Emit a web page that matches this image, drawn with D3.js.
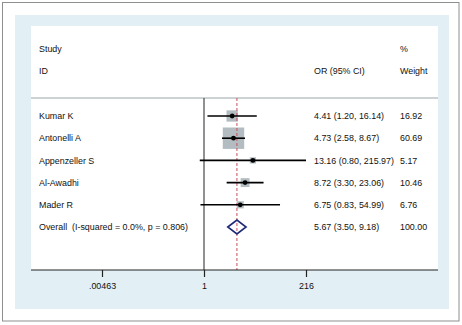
<!DOCTYPE html>
<html><head><meta charset="utf-8">
<script src="https://cdn.jsdelivr.net/npm/d3@7"></script>
<style>body{margin:0;background:#fff}svg{display:block}text{white-space:pre}</style>
</head><body>
<script>
const studies = ["Kumar K","Antonelli A","Appenzeller S","Al-Awadhi","Mader R"];
const orValues = [4.41,4.73,13.16,8.72,6.75];
const lowerCI = [1.20,2.58,0.80,3.30,0.83];
const upperCI = [16.14,8.67,215.97,23.06,54.99];
const weights = [16.92,60.69,5.17,10.46,6.76];
const overall = {label:"Overall  (I-squared = 0.0%, p = 0.806)", or:5.67, lo:3.50, hi:9.18, weight:100.00};
const tickValues = [0.00463, 1, 216];
const tickLabels = [".00463", "1", "216"];

const W = 462, H = 325;
const svg = d3.select("body").append("svg").attr("width", W).attr("height", H);
const font = "'Liberation Sans', Arial, sans-serif";
const fs = 8.9;

// frames
svg.append("rect").attr("x",2.5).attr("y",2.5).attr("width",456.5).attr("height",318.5)
  .attr("fill","#fff").attr("stroke","#8f8f8f").attr("stroke-width",1);
svg.append("rect").attr("x",15).attr("y",15).attr("width",434).attr("height",294).attr("fill","#e2f0f6");
svg.append("rect").attr("x",31).attr("y",26).attr("width",407).attr("height",244).attr("fill","#fff");

const x = d3.scaleLog().domain([0.00463, 216]).range([102, 306]);
const rowY = d3.scalePoint().domain([...studies, overall.label]).range([116, 227]);

const plotTop = 98, axisY = 270;

// header line
svg.append("line").attr("x1",31).attr("x2",438).attr("y1",plotTop).attr("y2",plotTop)
  .attr("stroke","#9aa4a8").attr("stroke-width",1);

// text
const txt = (s, tx, ty) => svg.append("text").attr("x",tx).attr("y",ty).attr("dy","0.35em")
  .attr("font-family",font).attr("font-size",fs).attr("fill","#111").text(s);
txt("Study", 39, 49); txt("ID", 39, 71);
txt("OR (95% CI)", 314, 71); txt("%", 400, 49); txt("Weight", 400, 71);

const fmt = d3.format(".2f");
studies.forEach((s,i)=>{
  const y = rowY(s);
  txt(s, 39, y);
  txt(`${fmt(orValues[i])} (${fmt(lowerCI[i])}, ${fmt(upperCI[i])})`, 314, y);
  txt(fmt(weights[i]), 400, y);
});
txt(overall.label, 39, rowY(overall.label));
txt(`${fmt(overall.or)} (${fmt(overall.lo)}, ${fmt(overall.hi)})`, 314, rowY(overall.label));
txt(fmt(overall.weight), 400, rowY(overall.label));

// null line
svg.append("line").attr("x1",x(1)).attr("x2",x(1)).attr("y1",plotTop).attr("y2",axisY)
  .attr("stroke","#555").attr("stroke-width",1.3);
// boxes
studies.forEach((s,i)=>{
  const side = 2.75*Math.sqrt(weights[i]);
  svg.append("rect").attr("x",x(orValues[i])-side/2).attr("y",rowY(s)-side/2)
    .attr("width",side).attr("height",side).attr("fill","#b3bdc1");
});
// overall dashed line
svg.append("line").attr("x1",x(overall.or)).attr("x2",x(overall.or)).attr("y1",plotTop).attr("y2",axisY)
  .attr("stroke","#c8505a").attr("stroke-width",1).attr("stroke-dasharray","3,2");
// CI lines and points
studies.forEach((s,i)=>{
  const y = rowY(s);
  svg.append("line").attr("x1",x(lowerCI[i])).attr("x2",x(upperCI[i])).attr("y1",y).attr("y2",y)
    .attr("stroke","#000").attr("stroke-width",1.6);
  svg.append("circle").attr("cx",x(orValues[i])).attr("cy",y).attr("r",2.4).attr("fill","#000");
});
// diamond
const oy = rowY(overall.label);
svg.append("path").attr("d",`M${x(overall.lo)},${oy}L${x(overall.or)},${oy-7}L${x(overall.hi)},${oy}L${x(overall.or)},${oy+7}Z`)
  .attr("fill","none").attr("stroke","#1e2a78").attr("stroke-width",1.6);

// axis
svg.append("line").attr("x1",31).attr("x2",438).attr("y1",axisY).attr("y2",axisY)
  .attr("stroke","#222").attr("stroke-width",1.2);
const ax = d3.axisBottom(x).tickValues(tickValues).tickFormat((d,i)=>tickLabels[i]).tickSize(7).tickPadding(6);
const g = svg.append("g").attr("transform",`translate(0,${axisY})`).call(ax);
g.select(".domain").remove();
g.selectAll(".tick line").attr("stroke","#222").attr("stroke-width",1.2);
g.selectAll(".tick text").attr("font-family",font).attr("font-size",fs).attr("fill","#111");
</script>
</body></html>
